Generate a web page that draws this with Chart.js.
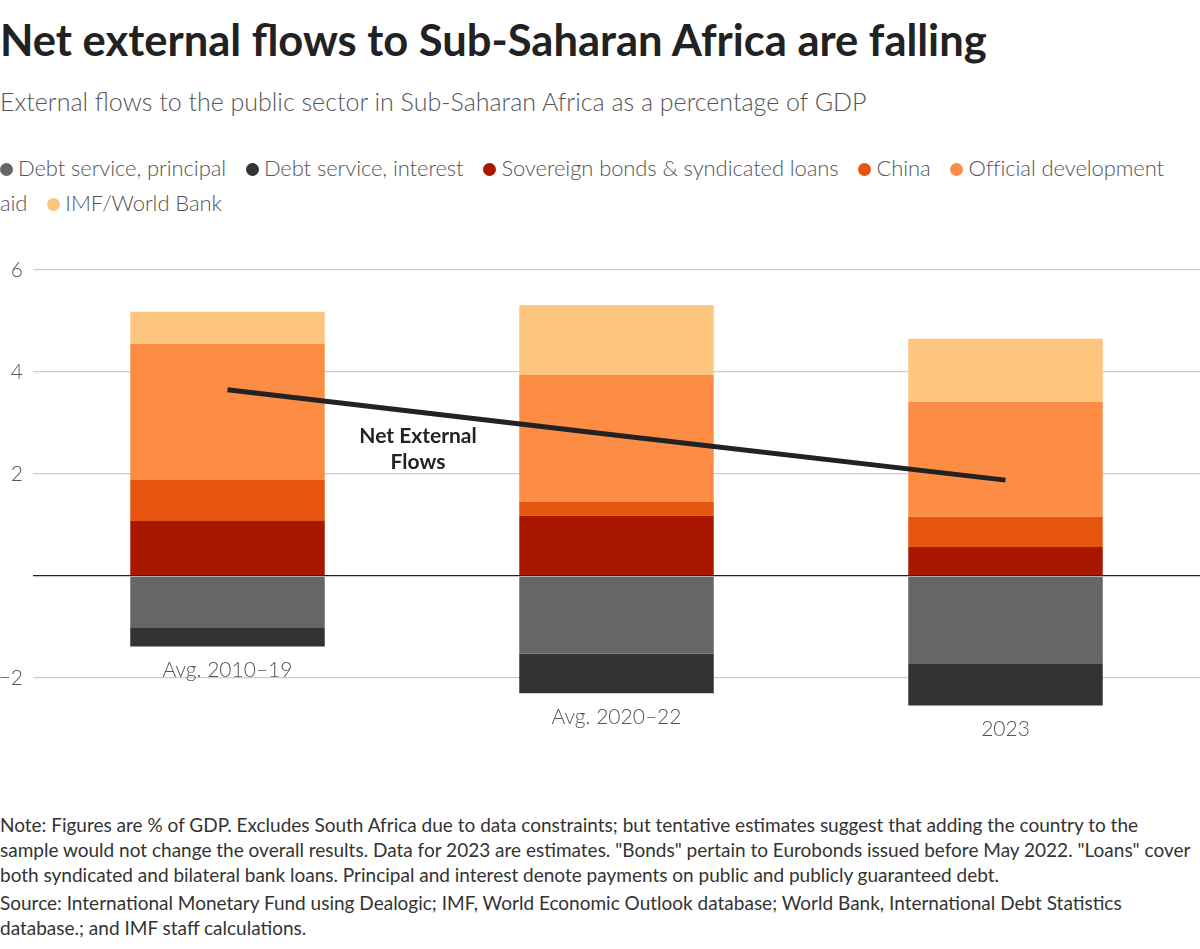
<!DOCTYPE html>
<html>
<head>
<meta charset="utf-8">
<script src="https://cdn.jsdelivr.net/npm/chart.js@4.4.1/dist/chart.umd.min.js"></script>
<style>
  html, body { margin: 0; padding: 0; background: #fff; }
  body { width: 1200px; height: 949px; position: relative; overflow: hidden; font-family: Lato, "Noto Sans", sans-serif; color: #222; }
  #title { position: absolute; left: 0; top: 13px; font-size: 43.5px; font-weight: 700; white-space: nowrap; }
  #subtitle { position: absolute; left: 0; top: 86px; font-size: 25px; font-weight: 300; color: #555; white-space: nowrap; }
  #legend { position: absolute; left: 0; top: 150px; width: 1200px; font-size: 22px; font-weight: 300; color: #555; line-height: 35px; letter-spacing: -0.1px; }
  #legend .item { margin-right: 14px; }
  #legend .dot { display: inline-block; width: 13px; height: 13px; border-radius: 50%; margin-right: 5px; vertical-align: 0px; }
  #chartBox { position: absolute; left: 0; top: 240px; width: 1200px; height: 520px; }
  #annot { position: absolute; left: 318px; top: 422px; width: 200px; text-align: center; font-size: 21px; font-weight: 700; line-height: 26px; color: #222; }
  #notes { position: absolute; left: 0; top: 812px; font-size: 19px; color: #333; line-height: 25px; white-space: nowrap; }
  #notes p { margin: 0 0 3px 0; }
</style>
</head>
<body>
<div id="title">Net external flows to Sub-Saharan Africa are falling</div>
<div id="subtitle">External flows to the public sector in Sub-Saharan Africa as a percentage of GDP</div>
<div id="legend"></div>
<div id="chartBox"><canvas id="chart"></canvas></div>
<div id="annot">Net External<br>Flows</div>
<div id="notes">
  <p>Note: Figures are % of GDP. Excludes South Africa due to data constraints; but tentative estimates suggest that adding the country to the<br>sample would not change the overall results. Data for 2023 are estimates. "Bonds" pertain to Eurobonds issued before May 2022. "Loans" cover<br>both syndicated and bilateral bank loans. Principal and interest denote payments on public and publicly guaranteed debt.</p>
  <p>Source: International Monetary Fund using Dealogic; IMF, World Economic Outlook database; World Bank, International Debt Statistics<br>database.; and IMF staff calculations.</p>
</div>
<script>
const categories = ['Avg. 2010–19', 'Avg. 2020–22', '2023'];
const principal = [-1.02, -1.52, -1.71];
const interest = [-0.36, -0.78, -0.83];
const sovereign = [1.08, 1.18, 0.57];
const china = [0.80, 0.27, 0.59];
const oda = [2.67, 2.49, 2.25];
const imfWorldBank = [0.63, 1.37, 1.24];
const netFlows = [3.65, 2.76, 1.88];
const yTicks = [-2, 0, 2, 4, 6];

const series = [
  { label: 'Debt service, principal', data: principal, color: '#666666' },
  { label: 'Debt service, interest', data: interest, color: '#333333' },
  { label: 'Sovereign bonds & syndicated loans', data: sovereign, color: '#a81800' },
  { label: 'China', data: china, color: '#e6550d' },
  { label: 'Official development aid', data: oda, color: '#fd8d45' },
  { label: 'IMF/World Bank', data: imfWorldBank, color: '#fec57e' }
];

// legend as inline text so "Official development aid" wraps like the original
const legendEl = document.getElementById('legend');
legendEl.innerHTML = series.map(s => {
  const text = s.label === 'Official development aid' ? 'Official development<br>aid' : s.label;
  return `<span class="item"><span class="dot" style="background:${s.color}"></span>${text}</span>`;
}).join(' ');

// category labels sit just under the bottom of each stack
const underBarLabels = {
  id: 'underBarLabels',
  afterDatasetsDraw(chart) {
    const { ctx, scales } = chart;
    ctx.save();
    ctx.font = '300 21px Lato, "Noto Sans", sans-serif';
    ctx.fillStyle = '#555';
    ctx.textAlign = 'center';
    ctx.textBaseline = 'middle';
    categories.forEach((c, i) => {
      const bottom = principal[i] + interest[i];
      const y = scales.y.getPixelForValue(bottom) + 24;
      ctx.fillText(c, scales.x.getPixelForValue(i), y);
    });
    ctx.restore();
  }
};

const datasets = [{
  type: 'line',
  label: 'Net external flows',
  data: netFlows,
  borderColor: '#222',
  borderWidth: 5,
  pointRadius: 0,
  stack: 'net',
  order: 0
}].concat(series.map(s => ({
  type: 'bar',
  label: s.label,
  data: s.data,
  backgroundColor: s.color,
  borderWidth: 0,
  barPercentage: 1,
  categoryPercentage: 0.5,
  order: 1
})));

new Chart(document.getElementById('chart'), {
  type: 'bar',
  data: { labels: categories, datasets },
  plugins: [underBarLabels],
  options: {
    responsive: true,
    maintainAspectRatio: false,
    animation: false,
    layout: { padding: { top: 30, bottom: 31, left: 0, right: 0 } },
    plugins: { legend: { display: false }, tooltip: { enabled: false } },
    scales: {
      x: { display: false, stacked: true },
      y: {
        stacked: true,
        min: -3,
        max: 6,
        border: { display: false },
        afterBuildTicks: (axis) => { axis.ticks = yTicks.map(v => ({ value: v })); },
        afterFit: (axis) => { axis.width = 33; },
        grid: {
          drawTicks: false,
          color: (c) => c.tick && c.tick.value === 0 ? '#222' : '#cccccc',
          lineWidth: 1.3
        },
        ticks: {
          padding: 10,
          color: '#555',
          font: { family: 'Lato, "Noto Sans", sans-serif', size: 21, weight: 300 },
          callback: (v) => v === 0 ? '' : String(v).replace('-', '\u2212')
        }
      }
    }
  }
});
</script>
</body>
</html>
